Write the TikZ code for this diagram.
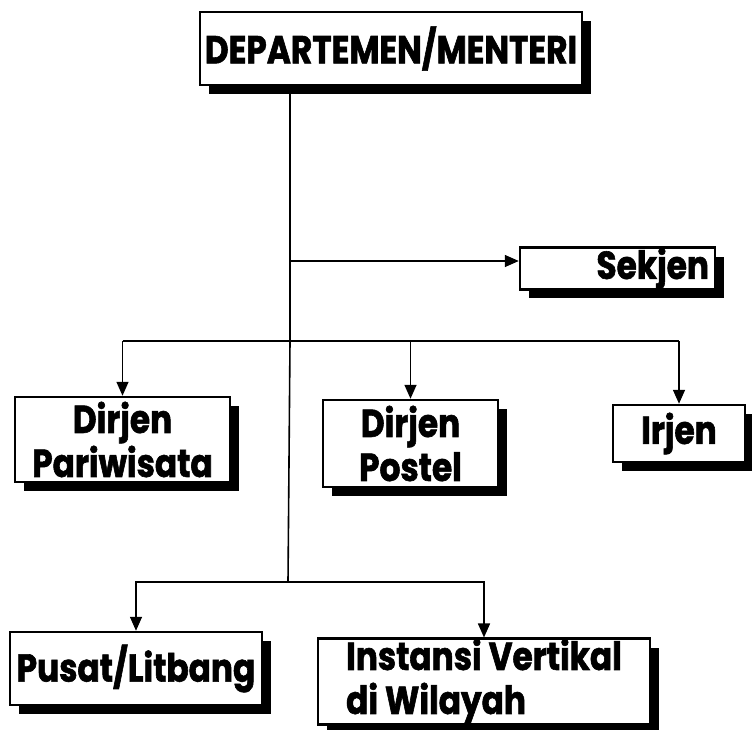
\documentclass[tikz,border=0pt]{standalone}
\usepackage{fontspec}
\setmainfont{Poppins}[FakeStretch=0.84,BoldFeatures={FakeBold=1.5}]
\usetikzlibrary{arrows.meta,shadows}
\tikzset{
  unit/.style={draw,line width=2.5pt,fill=white,
    drop shadow={shadow xshift=9pt,shadow yshift=-9pt,opacity=1,fill=black},
    font=\fontsize{39}{44}\selectfont\bfseries,inner sep=0pt},
  link/.style={line width=1.6pt},
  arrow/.style={link,-{Triangle[length=14pt,width=12pt]}}
}
\begin{document}
\begin{tikzpicture}[x=1pt,y=-1pt]
\useasboundingbox (0,0) rectangle (752,730);
%\draw[gray,very thin] (0,0) grid[step=50] (752,730);
\node[unit,minimum width=382pt,minimum height=73pt] (menteri) at (391,48.5) {DEPARTEMEN/MENTERI};
\node[unit,minimum width=195pt,minimum height=39pt,text width=183pt,align=right] (sekjen) at (617.5,268.5) {Sekjen};
\node[unit,minimum width=215pt,minimum height=85pt,align=center] (pariwisata) at (122.5,439.5) {Dirjen\\Pariwisata};
\node[unit,minimum width=175pt,minimum height=87pt,align=center] (postel) at (410.5,443.5) {Dirjen\\Postel};
\node[unit,minimum width=132pt,minimum height=57pt] (irjen) at (679,433.5) {Irjen};
\node[unit,minimum width=252pt,minimum height=73pt] (litbang) at (136,668.5) {Pusat/Litbang};
\node[unit,minimum width=332pt,minimum height=83pt,align=left] (instansi) at (484,681.5) {Instansi Vertikal\\di Wilayah};
\coordinate (a) at (290,261);
\coordinate (b) at (290,341);
\coordinate (c) at (288,582);
\draw[link] (menteri.south -| a) -- (a) -- (b) -- (c);
\draw[arrow] (a) -- (a -| sekjen.west);
\draw[link] (pariwisata.north |- b) -- (irjen.north |- b);
\draw[arrow] (pariwisata.north |- b) -- (pariwisata.north);
\draw[arrow] (postel.north |- b) -- (postel.north);
\draw[arrow] (irjen.north |- b) -- (irjen.north);
\draw[arrow] (c) -| (litbang.north);
\draw[arrow] (c) -| (instansi.north);
\end{tikzpicture}
\end{document}
